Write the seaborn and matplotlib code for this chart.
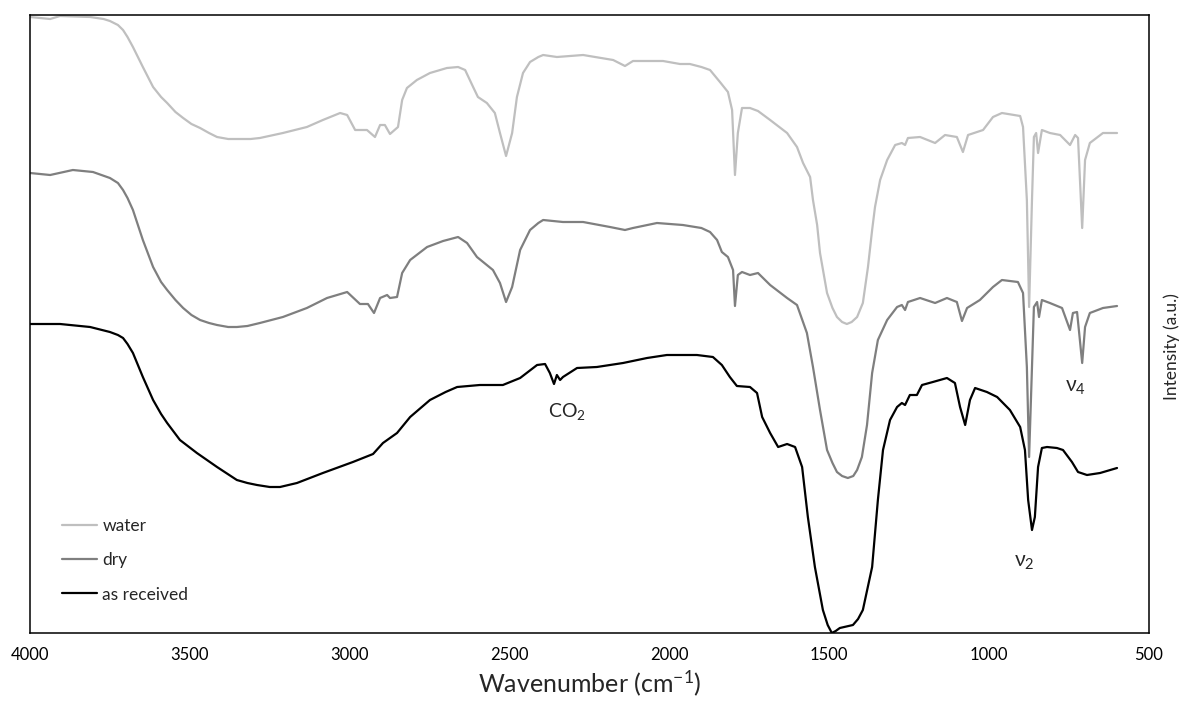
"""FTIRスペクトル3本（water / dry / as received）の重ね描き。"""

import matplotlib

matplotlib.use("Agg")
import matplotlib.pyplot as plt
import pandas as pd
import seaborn as sns

# 波数 (cm-1) と強度 (a.u.) を画像から読み取った値
water_wn = [4000, 3937, 3906, 3812, 3770, 3750, 3725, 3709, 3695, 3678, 3647, 3615, 3590, 3571,
            3545, 3521, 3495, 3468, 3440, 3415, 3380, 3343, 3310, 3281, 3209, 3134, 3084, 3030,
            3008, 2983, 2946, 2921, 2905, 2890, 2874, 2849, 2836, 2821, 2790, 2749, 2696, 2661,
            2639, 2614, 2599, 2571, 2546, 2530, 2511, 2492, 2477, 2458, 2436, 2410, 2395, 2352,
            2270, 2176, 2139, 2114, 2020, 1967, 1936, 1900, 1873, 1842, 1817, 1804, 1795, 1786,
            1773, 1748, 1723, 1685, 1632, 1601, 1582, 1560, 1551, 1538, 1529, 1507, 1490, 1476,
            1460, 1445, 1430, 1413, 1395, 1379, 1366, 1357, 1341, 1319, 1294, 1273, 1263, 1254,
            1216, 1169, 1138, 1101, 1082, 1066, 1019, 988, 960, 903, 894, 882, 875, 866, 860,
            853, 847, 835, 810, 778, 747, 731, 722, 709, 700, 685, 644, 600]
water_int = [616, 614, 617, 616, 614, 612, 608, 603, 596, 586, 566, 546, 536, 530,
             521, 515, 509, 505, 500, 496, 494, 494, 494, 495, 500, 506, 513, 520,
             518, 503, 503, 496, 508, 508, 499, 506, 533, 545, 553, 560, 565, 566,
             563, 546, 536, 530, 520, 500, 477, 500, 536, 560, 571, 576, 578, 576,
             578, 573, 567, 572, 572, 569, 569, 566, 563, 551, 541, 523, 458, 500,
             525, 525, 522, 513, 500, 486, 470, 456, 433, 408, 380, 340, 325, 316,
             311, 309, 311, 316, 330, 366, 403, 426, 453, 473, 488, 490, 488, 495,
             496, 490, 498, 496, 481, 498, 503, 516, 520, 517, 506, 433, 326, 433, 496,
             500, 480, 503, 500, 498, 488, 498, 495, 405, 473, 490, 500, 500]

dry_wn = [4000, 3937, 3866, 3803, 3750, 3725, 3709, 3695, 3678, 3647, 3615, 3590, 3571, 3545,
          3521, 3495, 3468, 3440, 3415, 3380, 3353, 3320, 3281, 3209, 3134, 3071, 3008, 2968,
          2943, 2924, 2905, 2883, 2874, 2852, 2836, 2811, 2758, 2708, 2661, 2633, 2602, 2552,
          2530, 2511, 2492, 2467, 2436, 2410, 2395, 2333, 2270, 2186, 2139, 2114, 2039, 1958,
          1900, 1873, 1851, 1836, 1817, 1801, 1795, 1786, 1773, 1748, 1723, 1685, 1632, 1601,
          1570, 1551, 1529, 1507, 1490, 1476, 1460, 1442, 1425, 1413, 1398, 1382, 1366, 1348,
          1319, 1288, 1273, 1263, 1254, 1216, 1169, 1132, 1101, 1085, 1069, 1029, 988,
          960, 910, 894, 882, 875, 866, 860, 850, 844, 835, 810, 772, 747, 738, 725, 709,
          700, 685, 644, 600]
dry_int = [460, 458, 463, 461, 455, 450, 443, 435, 423, 393, 366, 351, 343, 333,
           325, 318, 313, 310, 308, 306, 306, 307, 310, 316, 325, 335, 341, 329,
           329, 320, 335, 338, 335, 336, 360, 373, 386, 392, 396, 390, 376, 363,
           350, 331, 346, 383, 403, 410, 413, 411, 411, 406, 403, 405, 410, 408,
           405, 401, 393, 381, 376, 363, 327, 358, 361, 358, 360, 348, 335, 328,
           300, 266, 223, 183, 170, 161, 157, 155, 157, 163, 176, 208, 260, 293,
           313, 326, 328, 323, 331, 335, 330, 335, 331, 312, 325, 333, 346,
           353, 351, 340, 266, 176, 266, 326, 331, 316, 333, 330, 325, 303, 320, 321, 270,
           306, 320, 325, 327]

received_wn = [4000, 3906, 3812, 3750, 3725, 3709, 3695, 3678, 3647, 3615, 3590, 3571, 3531,
               3478, 3415, 3353, 3320, 3290, 3250, 3218, 3165, 3084, 2990, 2927, 2896, 2852,
               2811, 2749, 2700, 2664, 2593, 2521, 2467, 2414, 2389, 2374, 2361, 2352, 2342,
               2333, 2289, 2227, 2145, 2070, 2008, 1914, 1864, 1836, 1811, 1789, 1748, 1726,
               1710, 1685, 1660, 1632, 1607, 1585, 1567, 1545, 1520, 1505, 1492, 1480, 1467,
               1426, 1410, 1395, 1366, 1348, 1332, 1310, 1288, 1273, 1263, 1248, 1226, 1210,
               1176, 1132, 1107, 1091, 1075, 1060, 1044, 1007, 975, 935, 903, 888, 878, 866,
               857, 847, 835, 819, 788, 769, 741, 722, 694, 653, 600]
received_int = [309, 309, 306, 301, 298, 295, 289, 280, 256, 233, 219, 210, 193,
                180, 166, 153, 150, 148, 146, 146, 150, 160, 171, 179, 190, 200,
                216, 233, 241, 246, 248, 248, 255, 268, 269, 260, 249, 258, 253,
                256, 265, 266, 270, 275, 278, 278, 276, 268, 256, 247, 246, 240,
                216, 200, 186, 189, 186, 166, 116, 66, 23, 8, 0, 2, 5,
                8, 14, 23, 66, 133, 183, 213, 226, 230, 228, 238, 238, 248,
                251, 255, 250, 226, 208, 233, 245, 241, 236, 223, 206, 183, 133, 103,
                116, 166, 185, 186, 185, 183, 171, 161, 158, 160, 165]

series_names = ["water", "dry", "as received"]
series_colors = ["#bfbfbf", "#7f7f7f", "#000000"]

sns.set_style("white")
# set_styleの後でフォントを指定しないと上書きされます。
plt.rcParams["font.family"] = ["Lato", "DejaVu Sans"]
plt.rcParams["mathtext.fontset"] = "custom"
plt.rcParams["mathtext.rm"] = "Lato"

frames = []
for name, wn, inten in zip(series_names,
                           [water_wn, dry_wn, received_wn],
                           [water_int, dry_int, received_int]):
    frames.append(pd.DataFrame({"wavenumber": wn, "intensity": inten, "sample": name}))
spectra = pd.concat(frames, ignore_index=True)

figure = plt.figure(figsize=(11.81, 7.02), dpi=100)
axis = figure.add_axes([30 / 1181, 69 / 702, 1119 / 1181, 618 / 702])

sns.lineplot(
    data=spectra, x="wavenumber", y="intensity", hue="sample",
    hue_order=series_names, palette=series_colors,
    sort=False, estimator=None, linewidth=1.6, ax=axis,
)

axis.set_xlim(4000, 500)
axis.set_ylim(0, 618)
axis.set_xticks([4000, 3500, 3000, 2500, 2000, 1500, 1000, 500])
axis.set_yticks([])
axis.tick_params(axis="x", direction="in", length=5, width=1, pad=10, labelsize=12, colors="#000000")
for spine in axis.spines.values():
    spine.set_color("#000000")
    spine.set_linewidth(1.1)

axis.set_xlabel("Wavenumber (cm$\\mathregular{^{-1}}$)", fontsize=18, labelpad=4)
axis.yaxis.set_label_position("right")
axis.set_ylabel("Intensity (a.u.)", fontsize=12.5)
# 元図では縦軸ラベルが中央より少し下にあります。
axis.yaxis.set_label_coords(1.0125, 0.464)

axis.text(2320, 221, "CO$\\mathregular{_2}$", fontsize=14, ha="center", va="center")
axis.text(890, 71, "ν$\\mathregular{_2}$", fontsize=15, ha="center", va="center")
axis.text(730, 246, "ν$\\mathregular{_4}$", fontsize=15, ha="center", va="center")

axis.legend(
    loc="lower left", bbox_to_anchor=(0.015, 0.024), frameon=False,
    fontsize=12.5, handlelength=2.0, handletextpad=0.3, labelspacing=1.05, title=None,
)

figure.savefig("out.png", dpi=100)
plt.close(figure)
